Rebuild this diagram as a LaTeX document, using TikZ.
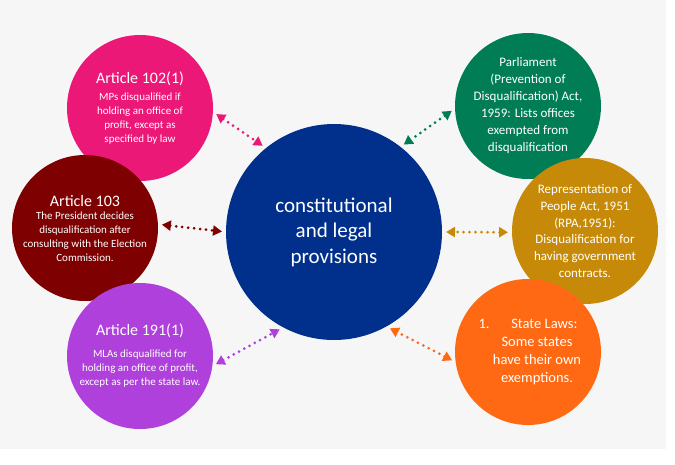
\documentclass[tikz,border=0pt]{standalone}
\usepackage{fontspec}
\setmainfont{Carlito}
\usetikzlibrary{arrows.meta, positioning}

\definecolor{navyc}{HTML}{00308C}
\definecolor{pinkc}{HTML}{EC1877}
\definecolor{maroonc}{HTML}{7E0000}
\definecolor{purplec}{HTML}{B040DC}
\definecolor{greenc}{HTML}{007D55}
\definecolor{goldc}{HTML}{C68A08}
\definecolor{orangec}{HTML}{FF6914}
\definecolor{bgc}{HTML}{F6F6F6}

\newcommand{\ttl}[1]{{\fontsize{16}{19}\selectfont #1}}

\begin{document}
\begin{tikzpicture}[x=1pt, y=-1pt,
  bub/.style={circle, minimum size=146pt, inner sep=0pt, outer sep=0pt,
              text=white, align=center, font=\fontsize{11}{14}\selectfont},
  hub/.style={circle, minimum size=216pt, inner sep=0pt, outer sep=0pt,
              fill=navyc, text=white, align=center, font=\fontsize{21}{25.5}\selectfont},
  lnk/.style={{Triangle[length=9pt,width=10pt]}-{Triangle[length=9pt,width=10pt]},
              line width=3pt, line cap=round, dash pattern=on 0pt off 6pt,
              shorten <=4pt, shorten >=4pt}
]
  \useasboundingbox (0,0) rectangle (675,464);
  \fill[bgc] (0,0) rectangle (666,449);

  \node[hub] (cen) at (334,232) {constitutional\\and legal\\provisions};

  % left side
  \node[bub, fill=pinkc] (art102) at (140,108)
    {\ttl{Article 102(1)}\\[3pt]MPs disqualified if\\holding an office of\\profit, except as\\specified by law};
  \node[bub, fill=maroonc] (art103) at (85,228)
    {\ttl{Article 103}\\[-1pt]The President decides\\disqualification after\\consulting with the Election\\Commission.};
  \node[bub, fill=purplec] (art191) at (140,356)
    {\ttl{Article 191(1)}\\[8pt]MLAs disqualified for\\holding an office of profit,\\except as per the state law.};

  % right side
  \node[bub, fill=greenc, font=\fontsize{13}{17}\selectfont] (ppda) at (528,106)
    {Parliament\\(Prevention of\\Disqualification) Act,\\1959: Lists offices\\exempted from\\disqualification};
  \node[bub, fill=goldc, font=\fontsize{13}{16.7}\selectfont] (rpa) at (585,231)
    {Representation of\\People Act, 1951\\(RPA,1951):\\Disqualification for\\having government\\contracts.};
  \node[bub, fill=orangec, font=\fontsize{14.5}{18}\selectfont] (stl) at (528,352)
    {1.\hspace{1.5em}State Laws:\\\hspace*{18pt}Some states\\\hspace*{18pt}have their own\\\hspace*{18pt}exemptions.};

  % connectors
  \draw[lnk, pinkc]   (art102.-3)  -- (cen.129);
  \draw[lnk, maroonc] (art103.3)   -- (cen.180);
  \draw[lnk, purplec] (art191.-8)  -- (cen.242);
  \draw[lnk, greenc]  (ppda.182)   -- (cen.52);
  \draw[lnk, goldc]   (rpa.181)    -- (cen.0);
  \draw[lnk, orangec] (stl.188)    -- (cen.-61);
\end{tikzpicture}
\end{document}
